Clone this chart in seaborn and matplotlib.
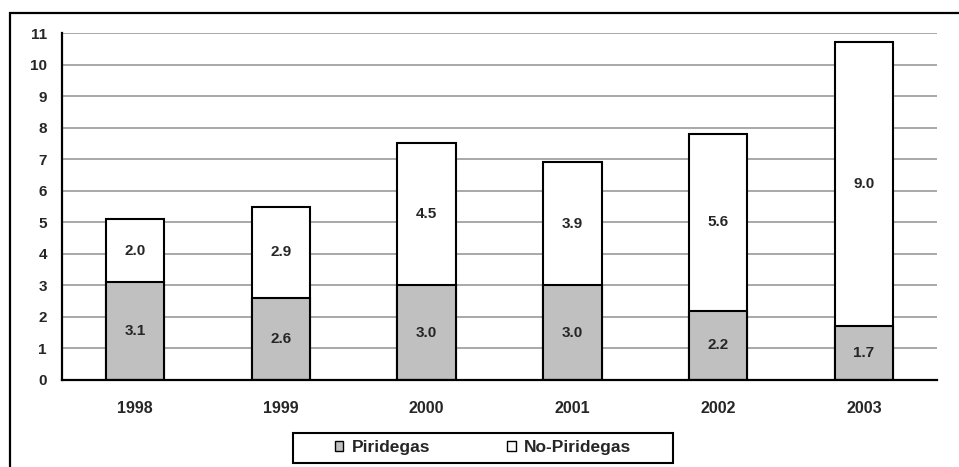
import matplotlib
matplotlib.use("Agg")
import matplotlib.pyplot as plt
from matplotlib.patches import Rectangle, Patch
from matplotlib.ticker import FixedLocator, NullFormatter
import seaborn as sns
import pandas as pd

years = ["1998", "1999", "2000", "2001", "2002", "2003"]
piridegas = [3.1, 2.6, 3.0, 3.0, 2.2, 1.7]
no_piridegas = [2.0, 2.9, 4.5, 3.9, 5.6, 9.0]
y_ticks = list(range(0, 12))

sns.set_theme(style="white")
plt.rcParams["font.family"] = ["Liberation Sans", "DejaVu Sans"]
plt.rcParams["font.weight"] = "bold"

df = pd.DataFrame({
    "year": years,
    "Piridegas": piridegas,
    "No-Piridegas": no_piridegas,
})
df["total"] = df["Piridegas"] + df["No-Piridegas"]

fig = plt.figure(figsize=(9.59, 4.67), dpi=100)
ax = fig.add_axes([0.0647, 0.1863, 0.9123, 0.743])

# outer chart frame (runs off the right and bottom edge)
fig.patches.append(Rectangle((0.0104, -0.2), 1.2, 1.172, transform=fig.transFigure,
                             fill=False, edgecolor="black", linewidth=1.6, zorder=10))

# stacked bars: full height in white, lower segment in gray on top
sns.barplot(data=df, x="year", y="total", color="white", width=0.4,
            edgecolor="black", linewidth=1.5, saturation=1, ax=ax, zorder=3)
sns.barplot(data=df, x="year", y="Piridegas", color="#c0c0c0", width=0.4,
            edgecolor="black", linewidth=1.5, saturation=1, ax=ax, zorder=4)

for i, (p, n) in enumerate(zip(piridegas, no_piridegas)):
    ax.text(i, p / 2, f"{p:.1f}", ha="center", va="center", fontsize=11,
            fontweight="bold", zorder=5)
    ax.text(i, p + n / 2, f"{n:.1f}", ha="center", va="center", fontsize=11,
            fontweight="bold", zorder=5)

ax.set_xlim(-0.5, len(years) - 0.5)
ax.set_ylim(0, 11)
ax.set_yticks(y_ticks)
ax.set_yticklabels([str(t) for t in y_ticks], fontsize=11, fontweight="bold")
ax.set_xticks(range(len(years)))
ax.set_xticklabels(years, fontsize=11.5, fontweight="bold")
ax.xaxis.set_minor_locator(FixedLocator([i - 0.5 for i in range(len(years) + 1)]))
ax.xaxis.set_minor_formatter(NullFormatter())
ax.tick_params(axis="x", which="major", length=0, pad=15)
ax.tick_params(axis="x", which="minor", length=5, width=1.5, direction="out", color="black")
ax.tick_params(axis="y", length=5, width=1.5, direction="out", color="black", pad=6)
ax.set_xlabel("")
ax.set_ylabel("")

ax.grid(axis="y", color="#999999", linewidth=1.2, zorder=0)
ax.set_axisbelow(True)
for side in ("top", "right"):
    ax.spines[side].set_visible(False)
for side in ("left", "bottom"):
    ax.spines[side].set_visible(True)
    ax.spines[side].set_color("black")
    ax.spines[side].set_linewidth(1.6)
    ax.spines[side].set_zorder(6)

# legend box drawn separately for its wide side padding
fig.patches.append(Rectangle((0.3055, 0.0086), 0.3962, 0.0642, transform=fig.transFigure,
                             fill=False, edgecolor="black", linewidth=1.5, zorder=10))
handles = [Patch(facecolor="#c0c0c0", edgecolor="black", linewidth=1.0, label="Piridegas"),
           Patch(facecolor="white", edgecolor="black", linewidth=1.0, label="No-Piridegas")]
leg = fig.legend(handles=handles, loc="center", bbox_to_anchor=(0.5037, 0.0407), ncol=2,
                 frameon=False, handlelength=0.5, handleheight=0.5, handletextpad=0.5,
                 columnspacing=4.4, borderpad=0.0,
                 prop={"weight": "bold", "size": 12.5})

fig.savefig("out.png", dpi=100)
